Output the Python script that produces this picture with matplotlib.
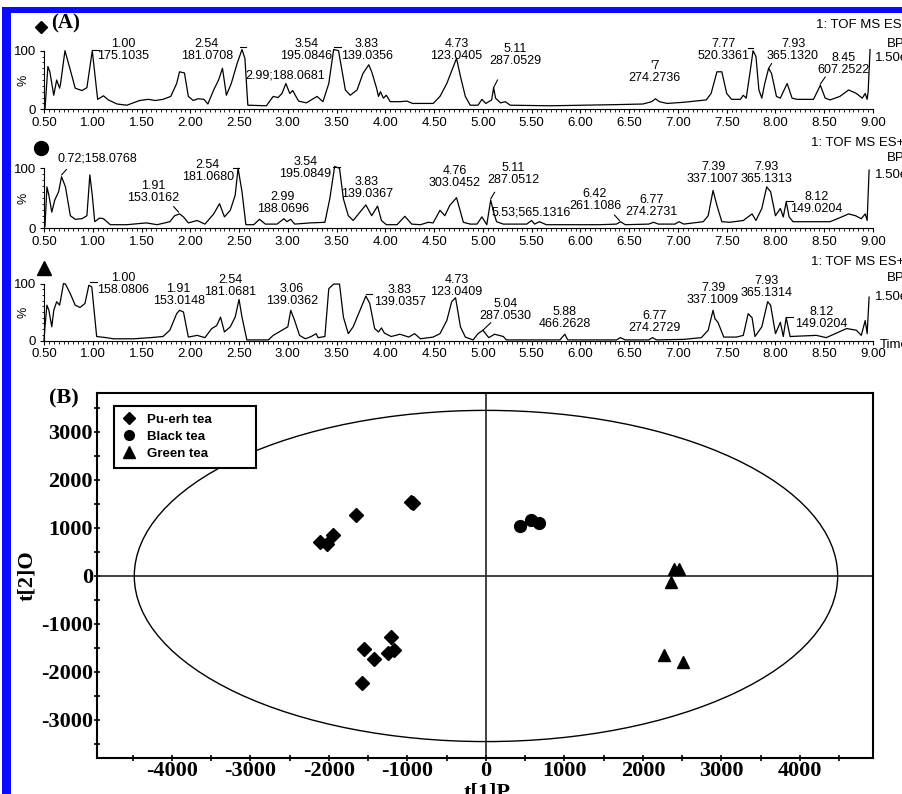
import matplotlib.pyplot as plt
import numpy as np
from matplotlib.patches import Ellipse, Rectangle
from matplotlib.lines import Line2D

plt.rcParams['font.family'] = ['Liberation Sans', 'DejaVu Sans']

W, H = 902, 794

# ---- (A) base peak chromatograms: retention time (min) vs. relative intensity (%)
pu_time = [0.51, 0.54, 0.56, 0.60, 0.63, 0.66, 0.67, 0.715, 0.77, 0.82, 0.89, 0.94, 0.995, 1.05,
           1.11, 1.16, 1.25, 1.35, 1.48, 1.57, 1.64, 1.72, 1.80, 1.86, 1.89, 1.94, 1.98, 2.03,
           2.08, 2.14, 2.18, 2.24, 2.29, 2.33, 2.37, 2.42, 2.48, 2.53, 2.56, 2.59, 2.78, 2.85,
           2.90, 2.94, 2.98, 3.02, 3.05, 3.11, 3.19, 3.30, 3.36, 3.42, 3.47, 3.52, 3.59, 3.64,
           3.71, 3.77, 3.83, 3.86, 3.91, 3.93, 3.95, 3.98, 4.01, 4.05, 4.15, 4.22, 4.28, 4.49,
           4.56, 4.63, 4.73, 4.77, 4.82, 4.87, 4.95, 4.99, 5.03, 5.09, 5.11, 5.13, 5.18, 5.23,
           5.28, 5.69, 6.03, 6.37, 6.64, 6.73, 6.77, 6.81, 6.89, 7.06, 7.29, 7.34, 7.40, 7.45,
           7.50, 7.55, 7.64, 7.67, 7.70, 7.74, 7.77, 7.80, 7.83, 7.86, 7.89, 7.93, 7.96, 8.01,
           8.05, 8.08, 8.12, 8.17, 8.22, 8.39, 8.46, 8.51, 8.56, 8.66, 8.75, 8.83, 8.89, 8.92,
           8.94, 8.95, 8.97]
pu_int = [0, 73, 64, 24, 50, 36, 44, 100, 67, 36, 32, 37, 100, 17,
          23, 16, 9, 7, 15, 17, 15, 17, 22, 44, 64, 62, 22, 15,
          18, 17, 9, 33, 50, 70, 24, 44, 78, 102, 87, 7, 6, 22,
          20, 27, 44, 27, 32, 14, 11, 22, 13, 44, 102, 100, 33, 24,
          33, 61, 76, 64, 36, 22, 30, 19, 24, 13, 13, 14, 10, 10,
          22, 44, 87, 56, 22, 7, 7, 17, 10, 16, 37, 19, 11, 13,
          7, 6, 7, 8, 9, 13, 18, 13, 10, 12, 16, 27, 64, 64,
          27, 17, 17, 24, 19, 64, 100, 90, 33, 19, 44, 70, 61, 22,
          19, 30, 44, 19, 17, 17, 41, 19, 16, 22, 33, 27, 19, 27,
          17, 30, 102]

bk_time = [0.51, 0.53, 0.55, 0.58, 0.61, 0.65, 0.68, 0.72, 0.77, 0.82, 0.89, 0.94, 0.97, 0.995,
           1.02, 1.07, 1.11, 1.18, 1.35, 1.55, 1.66, 1.79, 1.84, 1.89, 1.93, 1.98, 2.07, 2.15,
           2.24, 2.30, 2.35, 2.41, 2.46, 2.49, 2.53, 2.57, 2.65, 2.71, 2.77, 2.89, 2.96, 2.99,
           3.03, 3.07, 3.23, 3.38, 3.43, 3.48, 3.53, 3.57, 3.62, 3.67, 3.74, 3.80, 3.86, 3.92,
           3.96, 4.01, 4.12, 4.20, 4.27, 4.36, 4.44, 4.49, 4.56, 4.61, 4.66, 4.73, 4.80, 4.87,
           4.94, 4.99, 5.04, 5.08, 5.11, 5.14, 5.21, 5.45, 5.50, 5.53, 5.58, 5.65, 6.20, 6.37,
           6.41, 6.46, 6.70, 6.75, 6.80, 6.97, 7.01, 7.06, 7.26, 7.31, 7.36, 7.40, 7.45, 7.53,
           7.67, 7.76, 7.80, 7.86, 7.91, 7.95, 8.00, 8.05, 8.08, 8.11, 8.14, 8.18, 8.39, 8.56,
           8.68, 8.75, 8.82, 8.88, 8.92, 8.94, 8.96]
bk_int = [3, 69, 55, 27, 47, 61, 86, 69, 21, 15, 16, 21, 89, 55,
          11, 17, 16, 6, 6, 9, 6, 11, 21, 24, 19, 9, 13, 7,
          24, 41, 19, 30, 55, 100, 61, 6, 6, 15, 7, 7, 16, 11,
          15, 7, 9, 10, 49, 103, 100, 49, 21, 13, 27, 39, 21, 37,
          13, 6, 6, 20, 7, 6, 10, 9, 30, 21, 38, 51, 10, 7,
          7, 19, 6, 47, 27, 11, 7, 7, 13, 7, 11, 6, 6, 7,
          11, 6, 7, 10, 7, 7, 11, 7, 11, 21, 63, 38, 11, 10,
          13, 24, 13, 33, 69, 61, 21, 33, 19, 44, 19, 11, 11, 11,
          19, 24, 21, 16, 24, 13, 97]

gr_time = [0.50, 0.51, 0.53, 0.55, 0.58, 0.60, 0.63, 0.66, 0.67, 0.70, 0.72, 0.77, 0.82, 0.87,
           0.92, 0.96, 0.99, 1.04, 1.09, 1.14, 1.21, 1.42, 1.59, 1.72, 1.79, 1.86, 1.89, 1.93,
           1.98, 2.07, 2.15, 2.22, 2.27, 2.31, 2.35, 2.41, 2.46, 2.50, 2.53, 2.58, 2.80, 2.85,
           2.94, 3.00, 3.03, 3.07, 3.12, 3.18, 3.24, 3.29, 3.31, 3.38, 3.42, 3.47, 3.53, 3.57,
           3.62, 3.67, 3.74, 3.80, 3.84, 3.89, 3.93, 3.96, 3.99, 4.06, 4.15, 4.24, 4.30, 4.36,
           4.49, 4.56, 4.63, 4.68, 4.72, 4.77, 4.82, 4.90, 4.95, 5.00, 5.06, 5.12, 5.21, 5.24,
           5.79, 5.84, 5.87, 6.37, 6.41, 6.46, 6.70, 6.74, 6.78, 7.06, 7.24, 7.31, 7.36, 7.38,
           7.41, 7.47, 7.60, 7.67, 7.72, 7.76, 7.79, 7.86, 7.92, 7.95, 8.00, 8.05, 8.08, 8.11,
           8.15, 8.42, 8.52, 8.73, 8.83, 8.88, 8.92, 8.94, 8.96]
gr_int = [0, 24, 62, 53, 24, 53, 68, 62, 71, 100, 99, 82, 62, 58,
          65, 97, 94, 7, 6, 5, 3, 3, 5, 7, 18, 47, 53, 50,
          6, 9, 5, 21, 26, 41, 15, 24, 41, 72, 41, 1, 1, 9,
          18, 24, 53, 35, 9, 3, 7, 12, 5, 7, 91, 99, 99, 41,
          12, 24, 53, 78, 65, 21, 15, 22, 13, 7, 11, 6, 12, 3,
          6, 12, 35, 68, 75, 24, 6, 1, 12, 18, 5, 11, 7, 1,
          1, 11, 1, 1, 5, 1, 1, 5, 1, 2, 5, 18, 53, 38,
          32, 6, 6, 9, 47, 40, 7, 24, 68, 62, 12, 32, 7, 40,
          7, 9, 5, 21, 18, 9, 35, 12, 76]

# peak annotations: (text, retention time, intensity level of label centre)
pu_labels = [("1.00\n175.1035", 1.31, 101), ("2.54\n181.0708", 2.17, 101),
             ("2.99;188.0681", 2.97, 58), ("3.54\n195.0846", 3.19, 101),
             ("3.83\n139.0356", 3.81, 101), ("4.73\n123.0405", 4.73, 101),
             ("5.11\n287.0529", 5.33, 93), ("'7\n274.2736", 6.76, 64),
             ("7.77\n520.3361", 7.47, 102), ("7.93\n365.1320", 8.18, 102),
             ("8.45\n607.2522", 8.70, 77)]
bk_labels = [("0.72;158.0768", 1.05, 117), ("1.91\n153.0162", 1.62, 60),
             ("2.54\n181.0680", 2.18, 95), ("2.99\n188.0696", 2.95, 42),
             ("3.54\n195.0849", 3.18, 101), ("3.83\n139.0367", 3.81, 67),
             ("4.76\n303.0452", 4.71, 85), ("5.11\n287.0512", 5.31, 90),
             ("5.53;565.1316", 5.50, 27), ("6.42\n261.1086", 6.15, 47),
             ("6.77\n274.2731", 6.73, 38), ("7.39\n337.1007", 7.36, 93),
             ("7.93\n365.1313", 7.91, 93), ("8.12\n149.0204", 8.42, 43)]
gr_labels = [("1.00\n158.0806", 1.31, 99), ("1.91\n153.0148", 1.88, 79),
             ("2.54\n181.0681", 2.41, 96), ("3.06\n139.0362", 3.04, 79),
             ("3.83\n139.0357", 4.15, 78), ("4.73\n123.0409", 4.73, 96),
             ("5.04\n287.0530", 5.23, 54), ("5.88\n466.2628", 5.84, 40),
             ("6.77\n274.2729", 6.76, 33), ("7.39\n337.1009", 7.36, 81),
             ("7.93\n365.1314", 7.91, 93), ("8.12\n149.0204", 8.47, 40)]

# ---- (B) OPLS-DA score plot
pu_t1 = [-2115, -2030, -1945, -1656, -960, -925, -1550, -1427, -1210, -1244, -1172, -1583]
pu_t2 = [715, 660, 854, 1271, 1545, 1530, -1521, -1729, -1278, -1611, -1542, -2236]
bk_t1 = [433, 573, 675]
bk_t2 = [1048, 1167, 1097]
gr_t1 = [2395, 2455, 2352, 2263, 2510]
gr_t2 = [140, 140, -132, -1646, -1785]


def fx(x):
    return x / W


def fy(y):
    return 1 - y / H


fig = plt.figure(figsize=(W / 100, H / 100), dpi=100)


def chromatogram(top, bottom, t, inten, labels, marks):
    ax = fig.add_axes([fx(44), fy(bottom), (873 - 44) / W, (bottom - top) / H])
    ax.plot(t, inten, color='black', lw=0.9, clip_on=False)
    for x0, y0, x1, y1 in marks:
        ax.plot([x0, x1], [y0, y1], color='black', lw=0.8, clip_on=False)
    for txt, tt, ii in labels:
        ax.text(tt, ii, txt, ha='center', va='center', fontsize=9, linespacing=1.0,
                clip_on=False)
    ax.set_xlim(0.5, 9.0)
    ax.set_ylim(0, 100)
    ax.spines[['top', 'right']].set_visible(False)
    ticks = np.arange(0.5, 9.01, 0.5)
    ax.set_xticks(ticks)
    ax.set_xticklabels([f'{v:.2f}' for v in ticks])
    ax.set_xticks(np.arange(0.5, 9.01, 0.05), minor=True)
    ax.set_yticks([0, 100])
    ax.set_yticklabels(['0', '100'])
    ax.set_yticks(np.arange(0, 101, 10), minor=True)
    ax.tick_params(length=3, width=0.8, labelsize=9.5, pad=2.5)
    ax.tick_params(which='minor', length=1.8, width=0.6)
    ax.set_ylabel('%', fontsize=9)
    ax.yaxis.set_label_coords(-0.018, 0.5)
    ax.patch.set_alpha(0)
    return ax


chromatogram(50.7, 109.3, pu_time, pu_int, pu_labels,
             [(0.99, 102, 1.06, 102), (2.51, 107, 2.57, 107), (3.47, 107, 3.55, 107),
              (5.11, 37, 5.15, 50), (7.72, 104, 7.77, 104), (7.93, 70, 7.96, 78),
              (8.46, 43, 8.51, 55)])
chromatogram(168.3, 228.3, bk_time, bk_int, bk_labels,
             [(0.68, 89, 0.73, 98), (1.83, 36, 1.88, 27), (2.44, 100, 2.50, 100),
              (3.46, 103, 3.54, 103), (5.08, 49, 5.12, 60), (6.40, 13, 6.35, 22),
              (8.11, 45, 8.18, 45)])
chromatogram(283.5, 340.5, gr_time, gr_int, gr_labels,
             [(0.97, 103, 1.04, 103), (3.80, 82, 3.86, 82), (5.00, 18, 5.08, 31),
              (8.11, 42, 8.18, 42)])

# instrument headers (cut by the right edge of the image)
for y_tof, y_bpi, y_sc, mode in [(25, 44, 58, '1: TOF MS ES-'), (143, 158, 175, '1: TOF MS ES+'),
                                 (262, 278, 297, '1: TOF MS ES+')]:
    x0 = 816 if mode.endswith('-') else 811
    fig.text(fx(x0), fy(y_tof), mode, fontsize=9.5, va='center', ha='left')
    fig.text(fx(887), fy(y_bpi), 'BPI', fontsize=9.5, va='center', ha='left')
    fig.text(fx(875), fy(y_sc), '1.50e4', fontsize=9.5, va='center', ha='left')
fig.text(fx(880), fy(345), 'Time', fontsize=9.5, va='center', ha='left')

# ---- score plot
sc = fig.add_axes([fx(97), fy(758), 776 / W, 365 / H])
sc.set_xlim(-4955, 4930)
sc.set_ylim(-3792, 3812)
sc.add_patch(Ellipse((0, 0), 2 * 4480, 2 * 3450, fill=False, lw=1.0, edgecolor='black'))
sc.axhline(0, color='#222222', lw=1.2)
sc.axvline(0, color='#222222', lw=1.2)
sc.plot(pu_t1, pu_t2, 'D', ms=7, color='black', ls='none')
sc.plot(bk_t1, bk_t2, 'o', ms=8.5, color='black', ls='none')
sc.plot(gr_t1, gr_t2, '^', ms=9, color='black', ls='none')

serif = dict(family='Liberation Serif', weight='bold', size=16)
xt = list(range(-4000, 4001, 1000))
yt = list(range(-3000, 3001, 1000))
sc.set_xticks(xt)
sc.set_xticklabels([str(v) for v in xt], fontdict=serif)
sc.set_yticks(yt)
sc.set_yticklabels([str(v) for v in yt], fontdict=serif)
sc.set_xticks(range(-4500, 4501, 1000), minor=True)
sc.set_yticks(range(-3500, 3501, 1000), minor=True)
sc.tick_params(which='both', direction='inout', length=4, width=1.2, pad=1)
sc.tick_params(axis='x', pad=0)
for s in sc.spines.values():
    s.set_linewidth(1.5)

handles = [Line2D([], [], marker='D', ls='none', ms=6, color='black', label='Pu-erh tea'),
           Line2D([], [], marker='o', ls='none', ms=7, color='black', label='Black tea'),
           Line2D([], [], marker='^', ls='none', ms=8.5, color='black', label='Green tea')]
leg = sc.legend(handles=handles, loc='upper left', bbox_to_anchor=(0.0219, 0.5, 0.183, 0.4652),
                mode='expand', borderaxespad=0, fancybox=False, edgecolor='black', framealpha=1,
                prop=dict(family='Liberation Sans', weight='bold', size=9.5),
                handlelength=1.0, handletextpad=0.9, borderpad=0.6, labelspacing=0.36)
leg.get_frame().set_linewidth(1.5)

fig.text(fx(27), fy(576), 't[2]O', rotation=90, ha='center', va='center', fontdict=serif)
fig.text(fx(487), fy(792), 't[1]P', ha='center', va='center', fontdict=serif)

# ---- overlay: blue frame, panel letters and group symbols
ov = fig.add_axes([0, 0, 1, 1])
ov.set_xlim(0, W)
ov.set_ylim(H, 0)
ov.axis('off')
ov.add_patch(Rectangle((2, 7), W, 6, color='#0a0aff', lw=0))
ov.add_patch(Rectangle((2, 7), 9, H, color='#0a0aff', lw=0))
ov.plot([41], [27], 'D', ms=6, color='black')
ov.plot([41], [148], 'o', ms=10, color='black')
ov.plot([44], [268], '^', ms=10, color='black')
ov.text(66, 23, '(A)', ha='center', va='center', fontdict=dict(family='Liberation Serif', weight='bold', size=15))
ov.text(64, 398, '(B)', ha='center', va='center', fontdict=dict(family='Liberation Serif', weight='bold', size=16))

fig.savefig('out.png', dpi=100)
